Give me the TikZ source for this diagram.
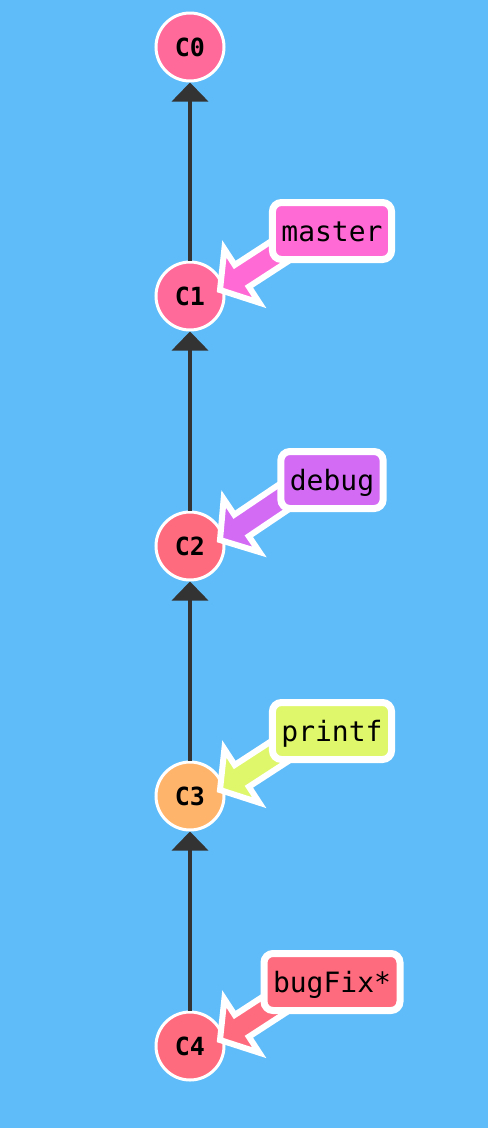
\documentclass[tikz,border=0pt]{standalone}
\usepackage{fontspec}
\setmonofont{DejaVu Sans Mono}
\usetikzlibrary{arrows.meta,calc}

\definecolor{bg}{HTML}{5FBCF9}
\definecolor{edgegray}{HTML}{333333}
\definecolor{pinkc}{HTML}{FF6A9A}
\definecolor{redc}{HTML}{FF6B7E}
\definecolor{orangec}{HTML}{FFB46C}
\definecolor{masterc}{HTML}{FF6AD4}
\definecolor{debugc}{HTML}{D46BF5}
\definecolor{printfc}{HTML}{DFF76B}
\definecolor{bugfixc}{HTML}{FF6B7E}

% fat pointer from a branch label to a commit: tip near the commit, shaft under the label
\newcommand\branchptr[3]{%
  \begin{scope}[shift={($(#1.center)+(30,-6)$)}, rotate=#2]
    \filldraw[ptr, fill=#3] (0,0) -- (26,32) -- (26,13) -- (100,13)
      -- (100,-13) -- (26,-13) -- (26,-32) -- cycle;
  \end{scope}}

\begin{document}
\begin{tikzpicture}[x=1pt, y=-1pt,
  commit/.style={circle, draw=white, line width=3pt, minimum size=68pt,
    inner sep=0pt, font=\ttfamily\bfseries\fontsize{25}{29}\selectfont},
  parent/.style={draw=edgegray, line width=3.5pt,
    -{Triangle[width=36pt, length=19pt]}},
  ptr/.style={draw=white, line width=6pt, line join=miter},
  branch/.style={rounded corners=9pt, draw=white, line width=7pt,
    inner xsep=9pt, minimum height=57pt, text height=24pt, text depth=3pt,
    font=\ttfamily\fontsize{28}{32}\selectfont}]

  \fill[bg] (0,0) rectangle (488,1128);
  \useasboundingbox (0,0) rectangle (488,1128);

  % commits
  \node[commit, fill=pinkc]   (C0) at (190,47)   {C0};
  \node[commit, fill=pinkc]   (C1) at (190,296)  {C1};
  \node[commit, fill=redc]    (C2) at (190,546)  {C2};
  \node[commit, fill=orangec] (C3) at (190,796)  {C3};
  \node[commit, fill=redc]    (C4) at (190,1046) {C4};

  % parent links
  \draw[parent] (C1) -- (C0);
  \draw[parent] (C2) -- (C1);
  \draw[parent] (C3) -- (C2);
  \draw[parent] (C4) -- (C3);

  % branch pointers
  \branchptr{C1}{33}{masterc}
  \branchptr{C2}{34}{debugc}
  \branchptr{C3}{33}{printfc}
  \branchptr{C4}{33}{bugfixc}

  % branch labels
  \node[branch, fill=masterc] (master) at ($(C1)+(142,-65)$) {master};
  \node[branch, fill=debugc]  (debug)  at ($(C2)+(142,-66)$) {debug};
  \node[branch, fill=printfc] (printf) at ($(C3)+(142,-65)$) {printf};
  \node[branch, fill=bugfixc] (bugFix) at ($(C4)+(142,-64)$) {bugFix*};
\end{tikzpicture}
\end{document}
